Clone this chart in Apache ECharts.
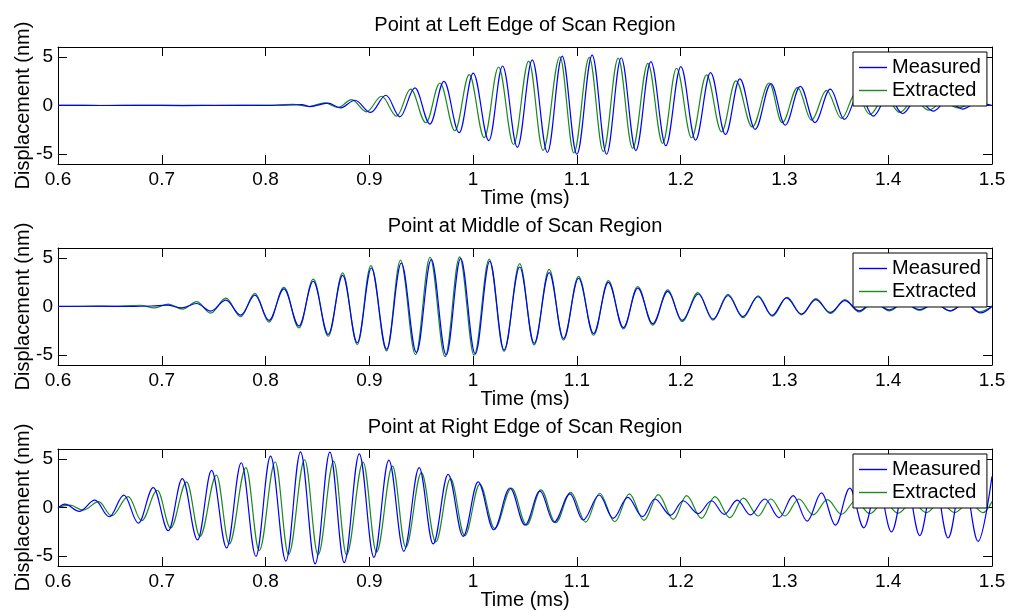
<!DOCTYPE html>
<html>
<head>
<meta charset="utf-8">
<title>Displacement at three scan points</title>
<script src="https://cdn.jsdelivr.net/npm/echarts@6/dist/echarts.min.js"></script>
<style>
  html, body { margin: 0; padding: 0; background: #fff; }
  #chart { width: 1012px; height: 612px; }
</style>
</head>
<body>
<div id="chart"></div>
<script>
// Panel titles, legend entries and tick labels
const panelTitles = [
  'Point at Left Edge of Scan Region',
  'Point at Middle of Scan Region',
  'Point at Right Edge of Scan Region'
];
const seriesNames = ['Measured', 'Extracted'];
const xTicks = [0.6, 0.7, 0.8, 0.9, 1.0, 1.1, 1.2, 1.3, 1.4, 1.5];
const yTicks = [-5, 0, 5];
const xLabel = 'Time (ms)';
const yLabel = 'Displacement (nm)';

// Displacement samples [time (ms), displacement (nm)] at the waveform turning points
const leftMeasured = [
  [0.600, 0.02], [0.640, 0.00], [0.680, 0.02], [0.720, -0.01], [0.760, 0.02], [0.800, 0.00],
  [0.825, 0.05], [0.835, 0.10], [0.8427, -0.12], [0.8600, 0.25], [0.8723, -0.24], [0.8861, 0.54],
  [0.9012, -0.71], [0.9160, 1.05], [0.9295, -1.16], [0.9439, 1.80], [0.9584, -1.90], [0.9719, 2.48],
  [0.9866, -2.79], [1.0001, 3.33], [1.0152, -3.60], [1.0284, 4.05], [1.0427, -4.30], [1.0570, 4.68],
  [1.0716, -4.82], [1.0858, 5.07], [1.1000, -5.00], [1.1147, 5.17], [1.1286, -5.00], [1.1427, 4.90],
  [1.1568, -4.63], [1.1713, 4.49], [1.1857, -4.12], [1.2002, 3.99], [1.2143, -3.55], [1.2288, 3.38],
  [1.2432, -2.97], [1.2570, 2.74], [1.2718, -2.44], [1.2870, 2.25], [1.3007, -2.02], [1.3153, 1.96],
  [1.3293, -1.75], [1.3442, 1.68], [1.3578, -1.43], [1.3720, 1.30], [1.3855, -1.09], [1.4000, 1.00],
  [1.4138, -0.82], [1.4280, 0.75], [1.4433, -0.58], [1.4570, 0.50], [1.4716, -0.37], [1.4860, 0.30],
  [1.500, 0.00]
];
const leftExtracted = [
  [0.600, 0.02], [0.650, 0.00], [0.700, 0.02], [0.750, 0.00], [0.800, 0.03], [0.8266, 0.12],
  [0.8420, -0.10], [0.8571, 0.27], [0.8700, -0.20], [0.8829, 0.61], [0.8973, -0.65], [0.9118, 0.95],
  [0.9263, -1.09], [0.9398, 1.67], [0.9545, -1.77], [0.9680, 2.31], [0.9825, -2.59], [0.9963, 3.16],
  [1.0107, -3.30], [1.0245, 3.95], [1.0390, -4.00], [1.0536, 4.56], [1.0674, -4.60], [1.0836, 5.00],
  [1.0971, -4.86], [1.1119, 4.93], [1.1254, -4.73], [1.1398, 4.86], [1.1537, -4.39], [1.1684, 4.32],
  [1.1826, -3.89], [1.1960, 3.82], [1.2105, -3.31], [1.2249, 3.14], [1.2394, -2.70], [1.2532, 2.53],
  [1.2690, -2.20], [1.2853, 2.31], [1.2978, -1.77], [1.3126, 1.84], [1.3261, -1.50], [1.3405, 1.56],
  [1.3550, -1.33], [1.3690, 1.30], [1.3823, -0.92], [1.3970, 0.90], [1.4112, -0.71], [1.4250, 0.62],
  [1.4391, -0.48], [1.4530, 0.40], [1.4674, -0.24], [1.4820, 0.20], [1.500, 0.00]
];
const middleMeasured = [
  [0.600, 0.02], [0.640, 0.03], [0.670, 0.00], [0.690, 0.05], [0.7047, 0.14], [0.7191, -0.14],
  [0.7336, 0.31], [0.7471, -0.48], [0.7618, 0.65], [0.7760, -0.88], [0.7898, 1.16], [0.8033, -1.43],
  [0.8177, 1.80], [0.8322, -2.00], [0.8460, 2.59], [0.8604, -2.86], [0.8743, 3.20], [0.8884, -3.71],
  [0.9020, 3.95], [0.9167, -4.39], [0.9308, 4.46], [0.9454, -4.73], [0.9597, 4.83], [0.9740, -4.97],
  [0.9880, 4.93], [1.0020, -4.86], [1.0160, 4.66], [1.0298, -4.46], [1.0449, 4.05], [1.0588, -3.78],
  [1.0733, 3.48], [1.0871, -3.28], [1.1016, 2.90], [1.1161, -2.77], [1.1303, 2.47], [1.1448, -2.16],
  [1.1586, 1.89], [1.1731, -1.76], [1.1876, 1.55], [1.2014, -1.42], [1.2170, 1.28], [1.2313, -1.30],
  [1.2457, 1.13], [1.2598, -1.03], [1.2745, 1.00], [1.2880, -0.91], [1.3020, 0.88], [1.3164, -0.78],
  [1.3302, 0.71], [1.3441, -0.61], [1.3582, 0.60], [1.3720, -0.45], [1.3860, 0.45], [1.4010, -0.34],
  [1.4150, 0.35], [1.4303, -0.32], [1.4450, 0.30], [1.4600, -0.45], [1.4740, 0.35], [1.4890, -0.66],
  [1.500, 0.00]
];
const middleExtracted = [
  [0.600, 0.00], [0.650, 0.02], [0.6790, 0.13], [0.6930, -0.14], [0.7063, 0.24], [0.7200, -0.27],
  [0.7336, 0.50], [0.7471, -0.68], [0.7618, 0.85], [0.7760, -1.05], [0.7898, 1.35], [0.8033, -1.60],
  [0.8177, 1.97], [0.8322, -2.20], [0.8460, 2.80], [0.8604, -3.05], [0.8743, 3.45], [0.8884, -3.90],
  [0.9015, 4.20], [0.9167, -4.55], [0.9300, 4.75], [0.9445, -4.95], [0.9585, 5.05], [0.9730, -5.15],
  [0.9870, 5.10], [1.0010, -5.00], [1.0155, 4.85], [1.0298, -4.60], [1.0449, 4.40], [1.0588, -3.95],
  [1.0733, 3.80], [1.0871, -3.45], [1.1016, 3.10], [1.1161, -2.95], [1.1303, 2.65], [1.1448, -2.30],
  [1.1586, 2.05], [1.1731, -1.90], [1.1876, 1.70], [1.2014, -1.55], [1.2166, 1.42], [1.2311, -1.40],
  [1.2456, 1.25], [1.2601, -1.15], [1.2747, 1.10], [1.2884, -1.00], [1.3026, 0.95], [1.3164, -0.85],
  [1.3303, 0.80], [1.3444, -0.72], [1.3582, 0.70], [1.3720, -0.55], [1.3860, 0.50], [1.4010, -0.45],
  [1.4150, 0.40], [1.4304, -0.38], [1.4450, 0.35], [1.4594, -0.45], [1.4740, 0.35], [1.4882, -0.55],
  [1.500, 0.05]
];
const rightMeasured = [
  [0.600, -0.05], [0.6067, 0.34], [0.6205, -0.40], [0.6356, 0.75], [0.6494, -0.95], [0.6635, 1.26],
  [0.6774, -1.60], [0.6918, 2.04], [0.7063, -2.38], [0.7198, 2.96], [0.7345, -3.33], [0.7480, 3.81],
  [0.7625, -4.15], [0.7766, 4.59], [0.7907, -5.00], [0.8048, 5.27], [0.8196, -5.50], [0.8337, 5.71],
  [0.8478, -5.78], [0.8620, 5.68], [0.8758, -5.65], [0.8903, 5.51], [0.9044, -5.10], [0.9188, 4.86],
  [0.9332, -4.49], [0.9480, 4.08], [0.9615, -3.74], [0.9759, 3.40], [0.9904, -2.96], [1.0048, 2.62],
  [1.0199, -2.28], [1.0355, 2.00], [1.0500, -1.80], [1.0644, 1.67], [1.0780, -1.50], [1.0933, 1.39],
  [1.1060, -1.28], [1.1215, 1.28], [1.1350, -1.11], [1.1490, 1.04], [1.1633, -0.94], [1.1751, 0.87],
  [1.1903, -0.80], [1.2024, 0.69], [1.2169, -0.63], [1.2297, 0.69], [1.2420, -0.70], [1.2545, 0.76],
  [1.2672, -0.76], [1.2811, 0.87], [1.2949, -1.04], [1.3084, 1.22], [1.3219, -1.39], [1.3357, 1.49],
  [1.3492, -1.80], [1.3630, 1.98], [1.3765, -2.08], [1.3900, 2.40], [1.4031, -2.50], [1.4170, 2.80],
  [1.4304, -2.88], [1.4440, 3.10], [1.4577, -3.13], [1.4720, 3.40], [1.4866, -3.47], [1.500, 3.20]
];
const rightExtracted = [
  [0.600, 0.00], [0.6116, 0.24], [0.6244, -0.27], [0.6392, 0.60], [0.6517, -0.85], [0.6677, 1.12],
  [0.6806, -1.36], [0.6957, 1.77], [0.7085, -2.10], [0.7239, 2.62], [0.7368, -2.96], [0.7527, 3.33],
  [0.7650, -3.74], [0.7811, 4.08], [0.7939, -4.42], [0.8093, 4.69], [0.8222, -4.83], [0.8377, 4.90],
  [0.8506, -4.86], [0.8657, 4.76], [0.8780, -4.86], [0.8940, 4.66], [0.9069, -4.59], [0.9223, 4.25],
  [0.9351, -4.08], [0.9502, 3.57], [0.9640, -3.54], [0.9782, 2.96], [0.9920, -2.89], [1.0064, 2.38],
  [1.0208, -2.14], [1.0370, 1.98], [1.0516, -1.80], [1.0653, 1.80], [1.0796, -1.56], [1.0940, 1.56],
  [1.1085, -1.49], [1.1220, 1.46], [1.1365, -1.46], [1.1505, 1.39], [1.1646, -1.32], [1.1784, 1.32],
  [1.1929, -1.22], [1.2057, 1.22], [1.2201, -1.11], [1.2330, 1.11], [1.2475, -1.04], [1.2604, 0.97],
  [1.2747, -0.87], [1.2869, 0.87], [1.3004, -0.87], [1.3139, 0.87], [1.3277, -0.76], [1.3414, 0.80],
  [1.3550, -0.69], [1.3687, 0.69], [1.3823, -0.63], [1.3960, 0.60], [1.4095, -0.59], [1.4230, 0.55],
  [1.4368, -0.52], [1.4500, 0.55], [1.4641, -0.52], [1.4780, 0.55], [1.4914, -0.52], [1.500, 0.60]
];

const panels = [
  [leftMeasured, leftExtracted],
  [middleMeasured, middleExtracted],
  [rightMeasured, rightExtracted]
];
const lineColors = ['#0000ff', '#1a8a1a'];

// Layout of the three stacked axes boxes
const FONT = '"Liberation Sans", Arial, Helvetica, sans-serif';
const gridLeft = 58, gridRight = 20, gridHeight = 117;
const gridTops = [47, 248, 449];
const gridCenterX = gridLeft + (1012 - gridLeft - gridRight) / 2;

const fmtTime = v => String(Math.round(v * 10) / 10);
const boxLine = () => ({ show: true, onZero: false, lineStyle: { color: '#000', width: 1 } });
const innerTicks = extra => Object.assign(
  { show: true, inside: true, length: 9, lineStyle: { color: '#000', width: 1 } }, extra || {});

const option = {
  animation: false,
  backgroundColor: '#fff',
  textStyle: { fontFamily: FONT },
  title: panelTitles.map((t, i) => ({
    text: t,
    left: gridCenterX,
    top: gridTops[i] - 32,
    textAlign: 'center',
    padding: 0,
    textStyle: { fontFamily: FONT, fontSize: 20, fontWeight: 'normal', color: '#000' }
  })),
  grid: gridTops.map(top => ({
    left: gridLeft, right: gridRight, top: top, height: gridHeight, containLabel: false
  })),
  legend: gridTops.map(top => ({
    data: seriesNames.map((n, k) => ({ name: n, icon: 'rect', itemStyle: { color: lineColors[k] } })),
    orient: 'vertical',
    left: 853,
    top: top + 5,
    itemWidth: 28,
    itemHeight: 1.4,
    itemGap: 0,
    padding: [4, 6, 4, 6],
    borderColor: '#000',
    borderWidth: 1,
    borderRadius: 0,
    backgroundColor: '#fff',
    selectedMode: false,
    z: 10,
    textStyle: { fontFamily: FONT, fontSize: 20, color: '#000', lineHeight: 23 }
  })),
  xAxis: [],
  yAxis: [],
  series: []
};

gridTops.forEach((top, i) => {
  // bottom axis with labels, top axis with ticks only
  option.xAxis.push({
    gridIndex: i, type: 'value', position: 'bottom',
    min: xTicks[0], max: xTicks[xTicks.length - 1], interval: 0.1,
    name: xLabel, nameLocation: 'middle', nameGap: 24, nameMoveOverlap: false,
    nameTextStyle: { fontFamily: FONT, fontSize: 20, color: '#000', verticalAlign: 'top' },
    axisLine: boxLine(),
    axisTick: innerTicks(),
    axisLabel: { show: true, margin: 6, fontFamily: FONT, fontSize: 19, color: '#000', formatter: fmtTime },
    splitLine: { show: false }
  });
  option.xAxis.push({
    gridIndex: i, type: 'value', position: 'top',
    min: xTicks[0], max: xTicks[xTicks.length - 1], interval: 0.1,
    axisLine: boxLine(),
    axisTick: innerTicks(),
    axisLabel: { show: false },
    splitLine: { show: false }
  });
  // left axis with labels, right axis with ticks only
  option.yAxis.push({
    gridIndex: i, type: 'value', position: 'left', min: -6, max: 6,
    name: yLabel, nameLocation: 'middle', nameGap: 25, nameRotate: 90, nameMoveOverlap: false,
    nameTextStyle: { fontFamily: FONT, fontSize: 20, color: '#000' },
    axisLine: boxLine(),
    axisTick: innerTicks({ customValues: yTicks }),
    axisLabel: { show: true, margin: 5, fontFamily: FONT, fontSize: 19, color: '#000', customValues: yTicks },
    splitLine: { show: false }
  });
  option.yAxis.push({
    gridIndex: i, type: 'value', position: 'right', min: -6, max: 6,
    axisLine: boxLine(),
    axisTick: innerTicks({ customValues: yTicks }),
    axisLabel: { show: false },
    splitLine: { show: false }
  });

  panels[i].forEach((data, k) => {
    option.series.push({
      name: seriesNames[k],
      type: 'line',
      xAxisIndex: 2 * i,
      yAxisIndex: 2 * i,
      data: data,
      symbol: 'none',
      smooth: 0.36,
      smoothMonotone: 'x',
      clip: true,
      z: k === 0 ? 4 : 3,
      lineStyle: { color: lineColors[k], width: 1.2 },
      itemStyle: { color: lineColors[k] },
      emphasis: { disabled: true }
    });
  });
});

const chart = echarts.init(document.getElementById('chart'), null, { renderer: 'canvas' });
chart.setOption(option);
</script>
</body>
</html>
